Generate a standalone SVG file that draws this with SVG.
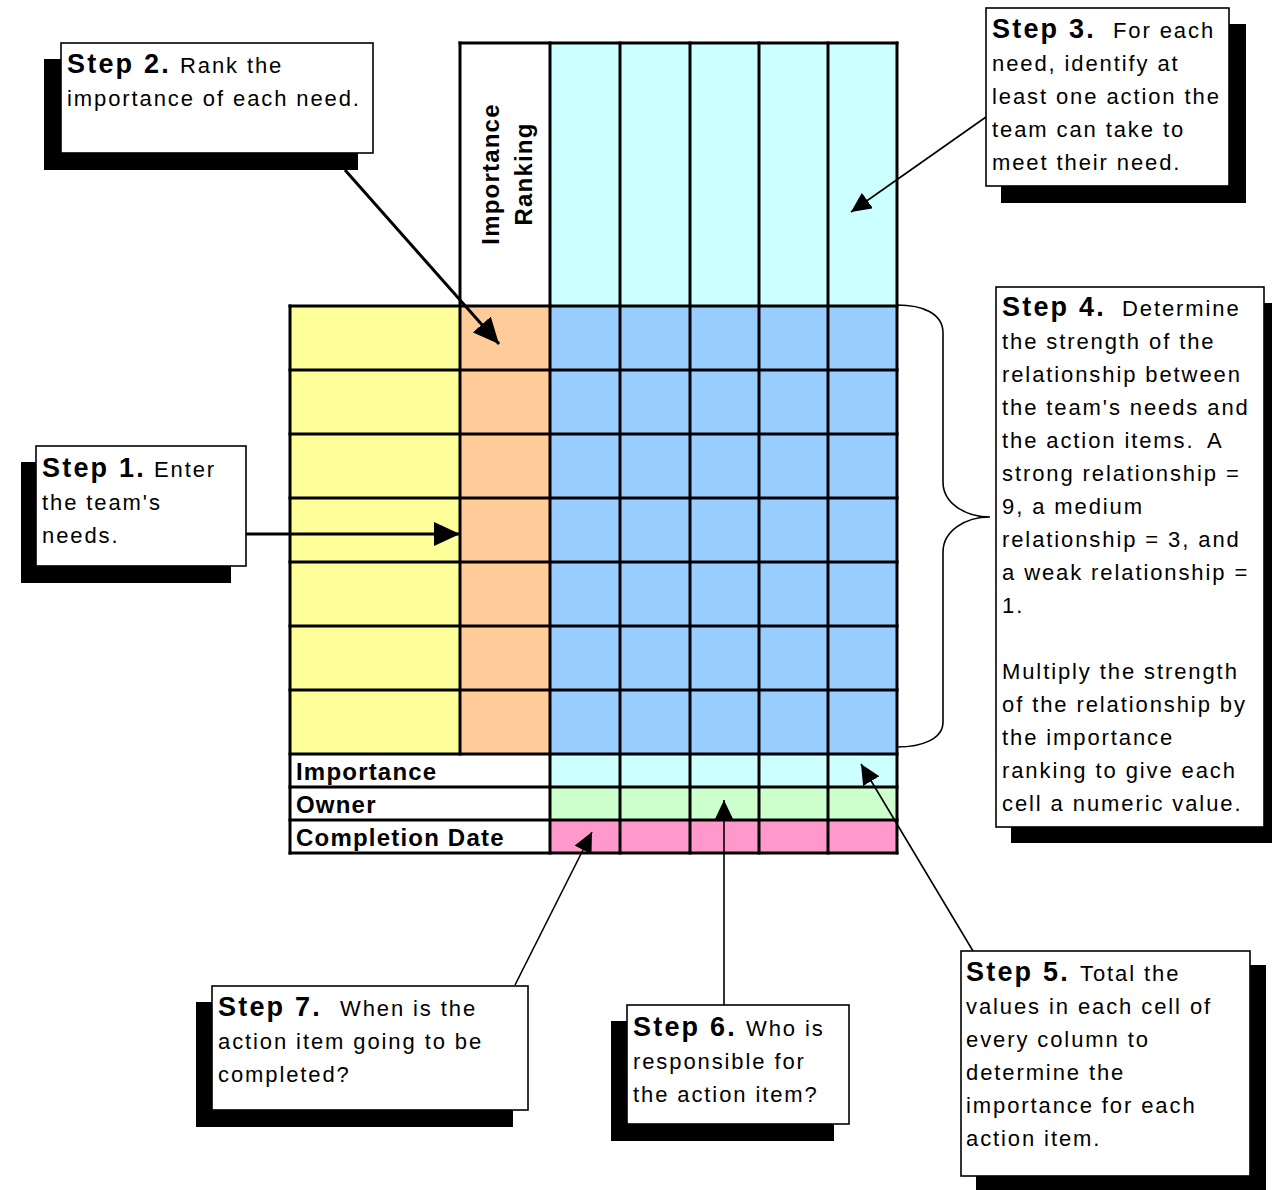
<svg xmlns="http://www.w3.org/2000/svg" width="1272" height="1190" viewBox="0 0 1272 1190">
  <style>
    .t { font-family: "Liberation Sans", Arial, Helvetica, sans-serif; font-size: 22px; letter-spacing: 1.9px; fill: #000; }
    .b { font-weight: bold; font-size: 27px; letter-spacing: 2.2px; }
    .lbl { font-family: "Liberation Sans", Arial, Helvetica, sans-serif; font-weight: bold; font-size: 24px; letter-spacing: 1.2px; fill: #000; }
    .box { fill: #fff; stroke: #000; stroke-width: 1.6; }
    .shadow { fill: #000; }
    .grid { stroke: #000; stroke-width: 3; fill: none; stroke-linecap: square; }
    .thick { stroke: #000; stroke-width: 3; fill: none; }
    .thin { stroke: #000; stroke-width: 1.6; fill: none; }
  </style>
  <defs>
    <marker id="headL" viewBox="0 0 26 24" markerWidth="26" markerHeight="24" refX="26" refY="12" orient="auto" markerUnits="userSpaceOnUse">
      <path d="M0,0 L26,12 L0,24 z" fill="#000"/>
    </marker>
    <marker id="headS" viewBox="0 0 20 19" markerWidth="20" markerHeight="19" refX="20" refY="9.5" orient="auto" markerUnits="userSpaceOnUse">
      <path d="M0,0 L20,9.5 L0,19 z" fill="#000"/>
    </marker>
  </defs>

  <rect width="1272" height="1190" fill="#fff"/>

  <!-- matrix -->
  <g id="matrix">
    <!-- fills -->
    <rect x="460" y="43" width="90" height="263" fill="#fff"/>
    <rect x="550" y="43" width="347" height="263" fill="#CCFFFF"/>
    <rect x="290" y="306" width="170" height="448" fill="#FFFF99"/>
    <rect x="460" y="306" width="90" height="448" fill="#FFCC99"/>
    <rect x="550" y="306" width="347" height="448" fill="#99CCFF"/>
    <rect x="290" y="754" width="260" height="99" fill="#fff"/>
    <rect x="550" y="754" width="347" height="33" fill="#CCFFFF"/>
    <rect x="550" y="787" width="347" height="33" fill="#CCFFCC"/>
    <rect x="550" y="820" width="347" height="33" fill="#FF99CC"/>

    <!-- rules -->
    <path class="grid" d="M460,43 H897 M290,306 H897 M290,370 H897 M290,434 H897 M290,498 H897 M290,562 H897 M290,626 H897 M290,690 H897 M290,754 H897 M290,787 H897 M290,820 H897 M290,853 H897"/>
    <path class="grid" d="M290,306 V853 M460,43 V754 M550,43 V853 M620,43 V853 M690,43 V853 M759,43 V853 M828,43 V853 M897,43 V853"/>

    <text class="lbl" transform="translate(499,174) rotate(-90)" text-anchor="middle">Importance</text>
    <text class="lbl" transform="translate(532,174) rotate(-90)" text-anchor="middle">Ranking</text>
    <text class="lbl" x="296" y="780">Importance</text>
    <text class="lbl" x="296" y="813">Owner</text>
    <text class="lbl" x="296" y="846">Completion Date</text>
  </g>

  <!-- step 1 -->
  <g id="step1">
    <rect class="shadow" x="21" y="462" width="210" height="121"/>
    <rect class="box" x="36" y="446" width="210" height="120"/>
    <text class="t"><tspan class="b" x="42" y="477">Step 1.</tspan><tspan x="154" y="477">Enter</tspan><tspan x="42" y="510">the team's</tspan><tspan x="42" y="543">needs.</tspan></text>
  </g>

  <!-- step 2 -->
  <g id="step2">
    <rect class="shadow" x="44" y="59" width="314" height="111"/>
    <rect class="box" x="61" y="43" width="312" height="110"/>
    <text class="t"><tspan class="b" x="67" y="73">Step 2.</tspan><tspan x="180" y="73">Rank the</tspan><tspan x="67" y="106">importance of each need.</tspan></text>
  </g>

  <!-- step 3 -->
  <g id="step3">
    <rect class="shadow" x="1001" y="24" width="245" height="179"/>
    <rect class="box" x="986" y="8" width="243" height="178"/>
    <text class="t"><tspan class="b" x="992" y="38">Step 3.</tspan><tspan x="1113" y="38">For each</tspan><tspan x="992" y="71">need, identify at</tspan><tspan x="992" y="104">least one action the</tspan><tspan x="992" y="137">team can take to</tspan><tspan x="992" y="170">meet their need.</tspan></text>
  </g>

  <!-- step 4 -->
  <g id="step4">
    <rect class="shadow" x="1011" y="303" width="268" height="540"/>
    <rect class="box" x="996" y="287" width="268" height="540"/>
    <text class="t"><tspan class="b" x="1002" y="316">Step 4.</tspan><tspan x="1122" y="316">Determine</tspan><tspan x="1002" y="349">the strength of the</tspan><tspan x="1002" y="382">relationship between</tspan><tspan x="1002" y="415">the team's needs and</tspan><tspan x="1002" y="448">the action items.</tspan><tspan x="1207" y="448">A</tspan><tspan x="1002" y="481">strong relationship =</tspan><tspan x="1002" y="514">9, a medium</tspan><tspan x="1002" y="547">relationship = 3, and</tspan><tspan x="1002" y="580">a weak relationship =</tspan><tspan x="1002" y="613">1.</tspan><tspan x="1002" y="679">Multiply the strength</tspan><tspan x="1002" y="712">of the relationship by</tspan><tspan x="1002" y="745">the importance</tspan><tspan x="1002" y="778">ranking to give each</tspan><tspan x="1002" y="811">cell a numeric value.</tspan></text>
  </g>

  <!-- step 5 -->
  <g id="step5">
    <rect class="shadow" x="976" y="965" width="290" height="225"/>
    <rect class="box" x="961" y="951" width="289" height="225"/>
    <text class="t"><tspan class="b" x="966" y="981">Step 5.</tspan><tspan x="1080" y="981">Total the</tspan><tspan x="966" y="1014">values in each cell of</tspan><tspan x="966" y="1047">every column to</tspan><tspan x="966" y="1080">determine the</tspan><tspan x="966" y="1113">importance for each</tspan><tspan x="966" y="1146">action item.</tspan></text>
  </g>

  <!-- step 6 -->
  <g id="step6">
    <rect class="shadow" x="611" y="1021" width="223" height="120"/>
    <rect class="box" x="627" y="1005" width="222" height="119"/>
    <text class="t"><tspan class="b" x="633" y="1036">Step 6.</tspan><tspan x="746" y="1036">Who is</tspan><tspan x="633" y="1069">responsible for</tspan><tspan x="633" y="1102">the action item?</tspan></text>
  </g>

  <!-- step 7 -->
  <g id="step7">
    <rect class="shadow" x="196" y="1002" width="317" height="125"/>
    <rect class="box" x="212" y="986" width="316" height="124"/>
    <text class="t"><tspan class="b" x="218" y="1016">Step 7.</tspan><tspan x="340" y="1016">When is the</tspan><tspan x="218" y="1049">action item going to be</tspan><tspan x="218" y="1082">completed?</tspan></text>
  </g>

  <!-- connectors -->
  <g id="connectors">
    <path class="thick" d="M246,534 H460" marker-end="url(#headL)"/>
    <path class="thick" d="M345,170 L499,344" marker-end="url(#headL)"/>
    <path class="thin" d="M986,117 L851,212" marker-end="url(#headS)"/>
    <path class="thin" d="M897,305 C922,305 943,313 943,333 L943,482 C943,503 965,517 990,517 C965,517 943,531 943,552 L943,722 C943,739 922,747 897,747"/>
    <path class="thin" d="M973,951 L861,764" marker-end="url(#headS)"/>
    <path class="thin" d="M724,1005 V800" marker-end="url(#headS)"/>
    <path class="thin" d="M515,985 L592,832" marker-end="url(#headS)"/>
  </g>
</svg>
